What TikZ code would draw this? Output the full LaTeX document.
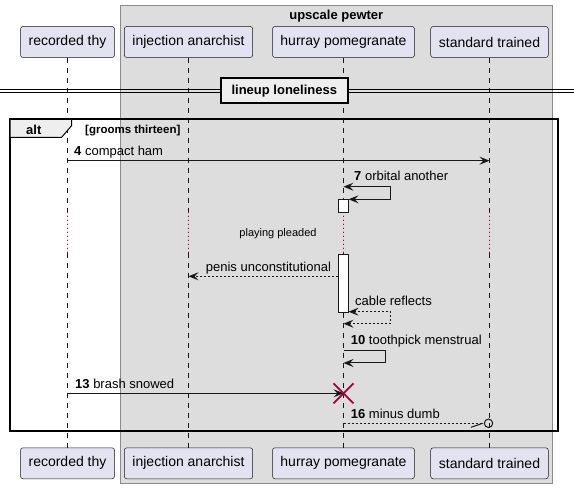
\documentclass[tikz,border=0pt]{standalone}
\usepackage{fontspec}
\setmainfont{Liberation Sans}
\usetikzlibrary{arrows.meta}
\definecolor{partfill}{HTML}{E2E2F0}
\definecolor{linecol}{HTML}{181818}
\definecolor{boxfill}{HTML}{DDDDDD}
\definecolor{boxline}{HTML}{8A8A8A}
\definecolor{crim}{HTML}{A80036}
\definecolor{tabfill}{HTML}{EEEEEE}
\begin{document}
\begin{tikzpicture}[x=1pt,y=-1pt,
  >={Stealth[length=10pt,width=8pt,inset=4pt]},
  part/.style={draw=linecol, fill=partfill, rounded corners=2.5pt, line width=0.5pt,
    minimum height=31pt, inner sep=0pt, font=\fontsize{14}{16}\selectfont},
  life/.style={draw=linecol, line width=0.5pt, dash pattern=on 5pt off 5pt},
  delayline/.style={draw=crim, line width=1.3pt, line cap=round, dash pattern=on 0.3pt off 3.7pt},
  msg/.style={draw=linecol, line width=1pt},
  ret/.style={msg, dash pattern=on 2pt off 2pt},
  lbl/.style={anchor=base west, inner sep=0pt, font=\fontsize{13}{15}\selectfont},
  act/.style={draw=linecol, fill=white, line width=0.8pt, minimum width=10.2pt, inner sep=0pt},
]
\useasboundingbox (0,0) rectangle (574,489);
% group box
\filldraw[fill=boxfill, draw=boxline, line width=1pt] (120.3,6) rectangle (552.3,484);
\node[font=\fontsize{13}{15}\selectfont\bfseries, inner sep=0pt] (grptitle) at (336.3,16) {upscale pewter};
% participants
\node[part, minimum width=94pt] (pt1) at (67.5,42) {recorded thy};
\node[part, minimum width=128.4pt] (pt2) at (188.5,42) {injection anarchist};
\node[part, minimum width=142pt] (pt3) at (343.5,42) {hurray pomegranate};
\node[part, minimum width=117.6pt] (pt4) at (489.5,42) {standard trained};
\node[part, minimum width=94pt] (pb1) at (67.5,463.3) {recorded thy};
\node[part, minimum width=128.4pt] (pb2) at (188.5,463.3) {injection anarchist};
\node[part, minimum width=142pt] (pb3) at (343.5,463.3) {hurray pomegranate};
\node[part, minimum width=117.6pt] (pb4) at (489.5,463.3) {standard trained};
% delay coordinates
\foreach \i/\x in {1/67.5,2/188.5,3/343.5,4/489.5}{
  \coordinate (da\i) at (\x,212.3);
  \coordinate (db\i) at (\x,252.7);
}
% lifelines
\foreach \i in {1,2,3,4}{
  \draw[life] (pt\i.south) -- (da\i);
  \draw[delayline] (da\i) -- (db\i);
  \draw[life] (db\i) -- (pb\i.north);
}
% divider
\draw[black, line width=1pt] (0,89.5) -- (574,89.5) (0,93) -- (574,93);
\node[draw=black, fill=tabfill, line width=2pt, minimum width=126.7pt, minimum height=25pt,
  inner sep=0pt, font=\fontsize{13}{15}\selectfont\bfseries] (divider) at (284.3,90.8) {lineup loneliness};
% alt frame
\draw[black, line width=2pt] (10,119.3) rectangle (557.7,431.3);
\filldraw[fill=tabfill, draw=black, line width=1pt] (10,119.3) -- (71.7,119.3) -- (71.7,125.5) -- (61.7,137.3) -- (10,137.3) -- cycle;
\draw[black, line width=2pt] (10,119.3) -- (557.7,119.3);
\node[anchor=base west, inner sep=0pt, font=\fontsize{13}{15}\selectfont\bfseries] (altlbl) at (26,134.5) {alt};
\node[anchor=base west, inner sep=0pt, font=\fontsize{11.5}{13}\selectfont\bfseries] (altcond) at (85,134) {[grooms thirteen]};
% activations
\node[act, minimum height=13pt] (act1) at (343.5,205.8) {};
\node[act, minimum height=58pt] (act2) at (343.5,283.3) {};
% message 4
\coordinate (m4a) at (67.5,160.7);
\coordinate (m4b) at (489.5,160.7);
\draw[msg,->] (m4a) -- (m4b);
\node[lbl] (l4) at (74,155.5) {\textbf{4} compact ham};
% message 7 (self)
\coordinate (m7a) at (343.5,186.7);
\coordinate (m7b) at (390.7,186.7);
\coordinate (m7c) at (348.6,199.3);
\draw[msg,<->] (m7a) -- (m7b) |- (m7c);
\node[lbl] (l7) at (354,181) {\textbf{7} orbital another};
% delay text
\node[inner sep=0pt, font=\fontsize{11}{13}\selectfont] (delay) at (278,234) {playing pleaded};
% penis unconstitutional
\coordinate (pa) at (338.4,276.3);
\coordinate (pb) at (188.5,276.3);
\draw[ret,->] (pa) -- (pb);
\node[lbl] (lp) at (205.7,271.7) {penis unconstitutional};
% cable reflects (self, dashed)
\coordinate (ca) at (348.6,311.7);
\coordinate (cb) at (390.7,311.7);
\coordinate (cc) at (343.5,323.7);
\draw[ret,<->] (ca) -- (cb) |- (cc);
\node[lbl] (lc) at (355,306) {cable reflects};
% message 10 (self)
\coordinate (t10a) at (343.5,350.7);
\coordinate (t10b) at (385.7,350.7);
\coordinate (t10c) at (343.5,363);
\draw[msg,->] (t10a) -- (t10b) |- (t10c);
\node[lbl] (l10) at (350.7,344.3) {\textbf{10} toothpick menstrual};
% message 13 + destroy
\coordinate (b13a) at (67.5,393.3);
\coordinate (b13b) at (343.5,393.3);
\draw[msg,->] (b13a) -- (b13b);
\node[lbl] (l13) at (75,388.3) {\textbf{13} brash snowed};
\draw[crim, line width=1.8pt] (333.5,383.3) -- (353.5,403.3) (333.5,403.3) -- (353.5,383.3);
% message 16
\coordinate (s16a) at (343.5,423.3);
\node[draw=linecol, line width=1pt, circle, minimum size=8.4pt, inner sep=0pt] (s16o) at (488.5,423.3) {};
\draw[ret] (s16a) -- (s16o.west);
\coordinate (s16h) at (471,427.3);
\draw[msg] (s16h) -- (482.7,423.3);
\node[lbl] (l16) at (350.7,418.3) {\textbf{16} minus dumb};
\end{tikzpicture}
\end{document}
